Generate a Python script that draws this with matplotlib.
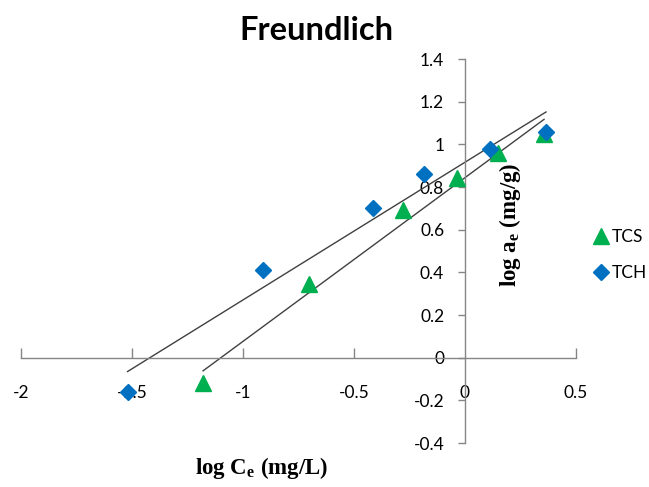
import numpy as np
import matplotlib
matplotlib.use("Agg")
import matplotlib.pyplot as plt

plt.rcParams["mathtext.fontset"] = "custom"
plt.rcParams["mathtext.rm"] = "Liberation Serif"
plt.rcParams["mathtext.bf"] = "Liberation Serif:bold"
plt.rcParams["mathtext.it"] = "Liberation Serif:italic"

# Data
tcs_x = [-1.18, -0.703, -0.28, -0.036, 0.149, 0.356]
tcs_y = [-0.12, 0.343, 0.69, 0.84, 0.96, 1.05]
tch_x = [-1.52, -0.91, -0.414, -0.185, 0.113, 0.365]
tch_y = [-0.16, 0.413, 0.70, 0.86, 0.977, 1.06]

x_ticks = [-2, -1.5, -1, -0.5, 0, 0.5]
x_tick_labels = ["-2", "-1.5", "-1", "-0.5", "0", "0.5"]
y_ticks = [-0.4, -0.2, 0, 0.2, 0.4, 0.6, 0.8, 1.0, 1.2, 1.4]
y_tick_labels = ["-0.4", "-0.2", "0", "0.2", "0.4", "0.6", "0.8", "1", "1.2", "1.4"]

W, H = 649, 487
fig = plt.figure(figsize=(W / 100, H / 100), dpi=100)
ax = fig.add_axes([21 / W, 1 - 443 / H, (576 - 21) / W, (443 - 59) / H])

tick_font = "Lato"
axis_col = "#868686"

# trendlines (linear fit over each series' x-range)
for xs, ys in [(tch_x, tch_y), (tcs_x, tcs_y)]:
    xs = np.array(xs); ys = np.array(ys)
    k, b = np.polyfit(xs, ys, 1)
    xr = np.array([xs.min(), xs.max()])
    ax.plot(xr, k * xr + b, color="#404040", lw=1.0, zorder=2)

ax.plot(tcs_x, tcs_y, linestyle="none", marker="^", markersize=11,
        color="#00B050", label="TCS", zorder=3)
ax.plot(tch_x, tch_y, linestyle="none", marker="D", markersize=8,
        color="#0070C0", label="TCH", zorder=3)

ax.set_xlim(-2, 0.5)
ax.set_ylim(-0.4, 1.4)

for s in ["top", "right"]:
    ax.spines[s].set_visible(False)
ax.spines["left"].set_position(("data", 0))
ax.spines["bottom"].set_position(("data", 0))
for s in ["left", "bottom"]:
    ax.spines[s].set_color(axis_col)
    ax.spines[s].set_linewidth(1.0)

ax.set_xticks(x_ticks)
ax.set_xticklabels(x_tick_labels, fontfamily=tick_font, fontsize=12.5)
ax.set_yticks(y_ticks)
ax.set_yticklabels(y_tick_labels, fontfamily=tick_font, fontsize=12.5)
ax.tick_params(axis="x", direction="in", length=7, width=1, color=axis_col, pad=20)
ax.tick_params(axis="y", direction="out", length=5, width=1, color=axis_col, pad=10)
# hide x tick mark at 0 (coincides with y-axis)
ax.xaxis.get_major_ticks()[4].tick1line.set_visible(False)

fig.text(316 / W, 1 - 30 / H, "Freundlich", ha="center", va="center",
         fontsize=23.5, fontweight="bold", fontfamily="Lato")

fig.text(262 / W, 1 - 468 / H, r"log C$_{\mathbf{e}}$ (mg/L)", ha="center", va="center",
         fontsize=16.5, fontweight="bold", fontfamily="Liberation Serif")
fig.text(510 / W, 1 - 225 / H, r"log a$_{\mathbf{e}}$ (mg/g)", ha="center", va="center",
         rotation=90, fontsize=16.5, fontweight="bold", fontfamily="Liberation Serif")

leg = fig.legend(loc="center left", bbox_to_anchor=(592 / W, 1 - 255 / H), frameon=False,
                 prop={"family": tick_font, "size": 12.5}, handletextpad=0.15,
                 handlelength=1.0, labelspacing=1.2, borderpad=0, borderaxespad=0)

fig.savefig("out.png", dpi=100)
